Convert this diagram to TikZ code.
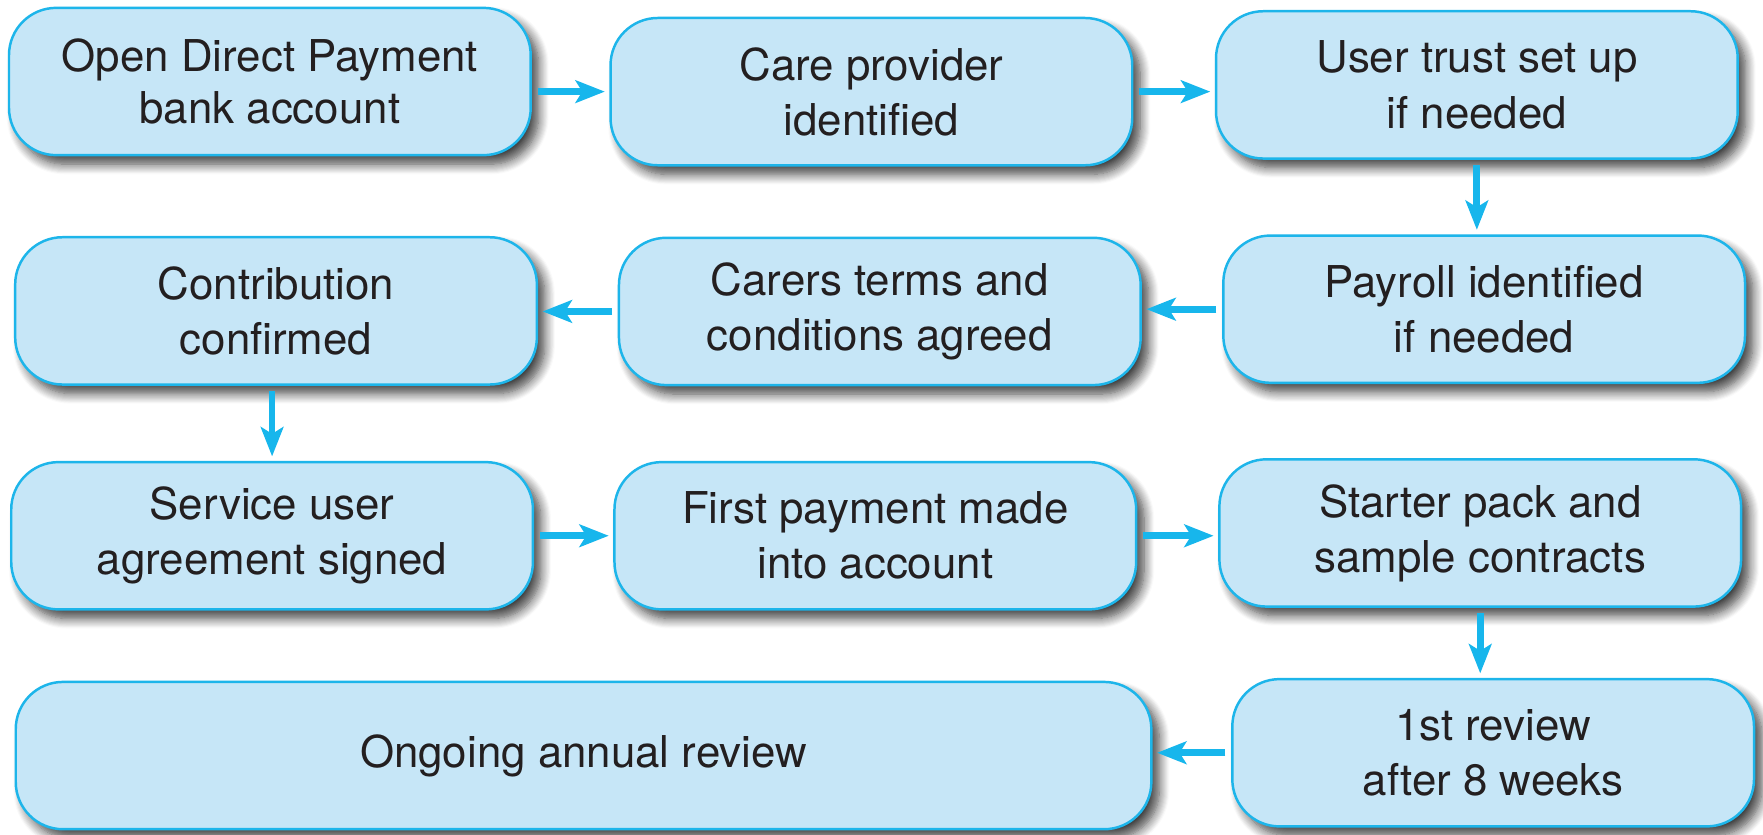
\documentclass[tikz,border=0pt]{standalone}
\usepackage{fontspec}
\setmainfont{TeX Gyre Heros}
\usetikzlibrary{arrows.meta,shadows.blur}
\definecolor{boxfill}{HTML}{C6E6F7}
\definecolor{boxline}{HTML}{1DB5EA}
\definecolor{arrowc}{HTML}{17B6EC}
\definecolor{txt}{HTML}{231F20}
\tikzset{
  stepbox/.style={draw=boxline, line width=1.1pt, fill=boxfill, rounded corners=21pt,
    minimum width=232pt, minimum height=65.5pt, align=center, text=txt,
    font=\fontsize{19.5}{24.5}\selectfont, inner sep=0pt,
    blur shadow={shadow xshift=3.5pt, shadow yshift=-4pt, shadow blur radius=4.5pt, shadow blur steps=10, shadow opacity=75}},
  flow/.style={draw=arrowc, line width=3pt, -{Stealth[length=13pt,width=10pt,inset=3pt]}, shorten <=2.5pt, shorten >=2pt}
}
\begin{document}
\begin{tikzpicture}[x=0.5pt,y=-0.5pt]
\useasboundingbox (0,0) rectangle (1568,742);
\node[stepbox] (B1) at (240,72.5) {\raisebox{-2pt}{\shortstack{Open Direct Payment\\[2pt]bank account}}};
\node[stepbox] (B2) at (775,81.5) {Care provider\\identified};
\node[stepbox] (B3) at (1313.5,75.5) {User trust set up\\if needed};
\node[stepbox] (B4) at (245.5,276.5) {Contribution\\confirmed};
\node[stepbox] (B5) at (782.5,277) {Carers terms and\\conditions agreed};
\node[stepbox] (B6) at (1320,275) {Payroll identified\\if needed};
\node[stepbox] (B7) at (242,476.5) {Service user\\agreement signed};
\node[stepbox] (B8) at (778.5,476.5) {First payment made\\into account};
\node[stepbox] (B9) at (1316.5,474) {Starter pack and\\sample contracts};
\node[stepbox, minimum width=505pt] (B10) at (519,672) {Ongoing annual review};
\node[stepbox] (B11) at (1328,669.5) {1st review\\after 8 weeks};
\draw[flow] (B1.east |- B2.west) -- (B2.west);
\draw[flow] (B2.east) -- (B2.east -| B3.west);
\draw[flow] (B3.south) -- (B3.south |- B6.north);
\draw[flow] (B6.west) -- (B6.west -| B5.east);
\draw[flow] (B5.west) -- (B5.west -| B4.east);
\draw[flow] (B7.north |- B4.south) -- (B7.north);
\draw[flow] (B7.east) -- (B7.east -| B8.west);
\draw[flow] (B8.east) -- (B8.east -| B9.west);
\draw[flow] (B9.south) -- (B9.south |- B11.north);
\draw[flow] (B11.west) -- (B11.west -| B10.east);
\end{tikzpicture}
\end{document}
